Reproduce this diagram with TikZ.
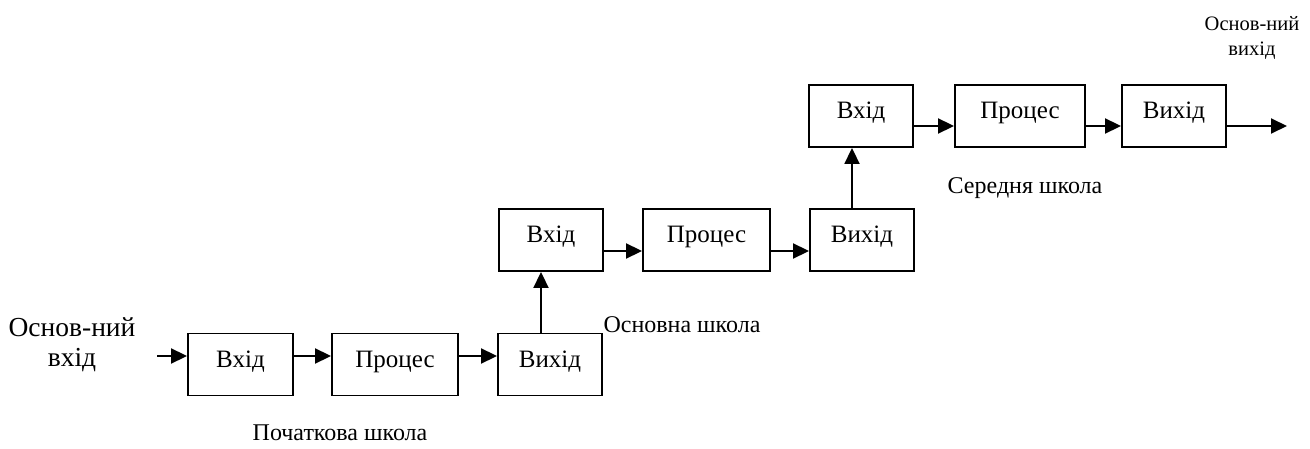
\documentclass[tikz,border=0pt]{standalone}
\usepackage{fontspec}
\setmainfont{Liberation Serif}
\usetikzlibrary{arrows.meta}
\newcommand\upshift[1]{\raisebox{3pt}[\height][\depth]{#1}}
\begin{document}
\begin{tikzpicture}[x=1pt,y=-1pt,
  box/.style={draw,line width=1.9pt,minimum height=62pt,inner sep=0pt,
    font=\fontsize{25}{28}\selectfont},
  arr/.style={line width=1.9pt,-{Triangle[length=16pt,width=15pt]}},
  lbl/.style={font=\fontsize{24}{28}\selectfont,inner sep=0pt}]
\useasboundingbox (0,0) rectangle (1310,449);
% row 1
\node[box,minimum width=105pt] (b1) at (240.5,364.5) {\upshift{Вхід}};
\node[box,minimum width=126pt] (b2) at (395,364.5) {\upshift{Процес}};
\node[box,minimum width=104pt] (b3) at (550,364.5) {\upshift{Вихід}};
% row 2
\node[box,minimum width=104pt] (b4) at (551,240) {\upshift{Вхід}};
\node[box,minimum width=127pt] (b5) at (706.5,240) {\upshift{Процес}};
\node[box,minimum width=104pt] (b6) at (862,240) {\upshift{Вихід}};
% row 3
\node[box,minimum width=104pt] (b7) at (861,116) {\upshift{Вхід}};
\node[box,minimum width=130pt] (b8) at (1020,116) {\upshift{Процес}};
\node[box,minimum width=104pt] (b9) at (1174,116) {\upshift{Вихід}};
% labels
\node[lbl,font=\fontsize{27.5}{30}\selectfont,align=center] (lin) at (72,345) {Основ-ний\\вхід};
\node[lbl,font=\fontsize{20.5}{25}\selectfont,align=center] (lout) at (1252,38) {Основ-ний\\вихід};
\node[lbl] (l1) at (340,433) {Початкова школа};
\node[lbl] (l2) at (682,325) {Основна школа};
\node[lbl] (l3) at (1025,188) {Середня школа};
% helper coordinates
\coordinate (r1) at (0,356);
\coordinate (r2) at (0,251);
\coordinate (r3) at (0,126);
\coordinate (v1) at (541,0);
\coordinate (v2) at (852,0);
\coordinate (in) at (157,356);
\coordinate (out) at (1287,126);
% connectors
\draw[arr] (in) -- (b1.west |- in);
\draw[arr] (b1.east |- r1) -- (b2.west |- r1);
\draw[arr] (b2.east |- r1) -- (b3.west |- r1);
\draw[arr] (b3.north -| v1) -- (b4.south -| v1);
\draw[arr] (b4.east |- r2) -- (b5.west |- r2);
\draw[arr] (b5.east |- r2) -- (b6.west |- r2);
\draw[arr] (b6.north -| v2) -- (b7.south -| v2);
\draw[arr] (b7.east |- r3) -- (b8.west |- r3);
\draw[arr] (b8.east |- r3) -- (b9.west |- r3);
\draw[arr] (b9.east |- out) -- (out);
\end{tikzpicture}
\end{document}
